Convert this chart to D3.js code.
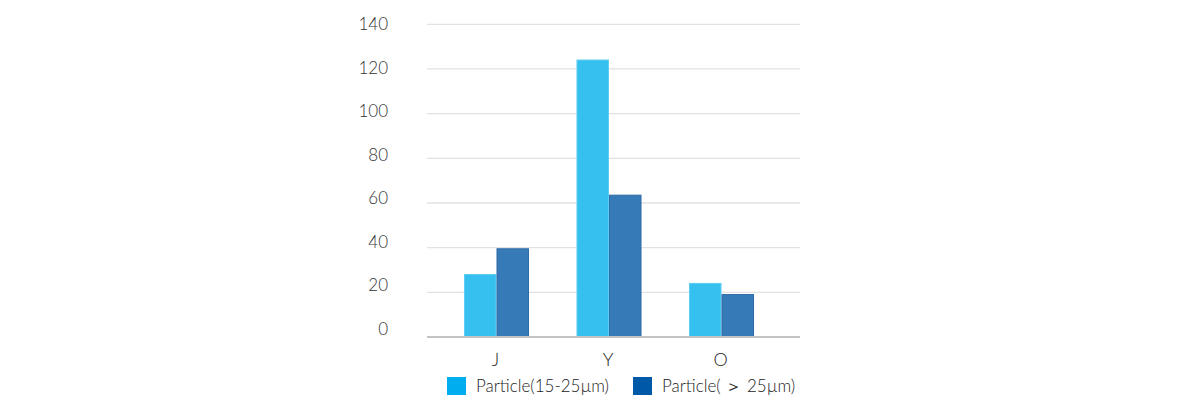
<!DOCTYPE html>
<html>
<head>
<meta charset="utf-8">
<script src="https://cdn.jsdelivr.net/npm/d3@7"></script>
<style>
  body { margin: 0; background: #fff; }
  svg text { font-family: Lato, "Open Sans", sans-serif; font-weight: 300; }
</style>
</head>
<body>
<svg id="chart" width="1200" height="400"></svg>
<script>
// chart values
const categories = ['J', 'Y', 'O'];
const seriesNames = ['Particle(15-25\u00b5m)', 'Particle( \uff1e 25\u00b5m)'];
const small = [28, 124, 24];     // 15-25um
const large = [39.5, 63.5, 19];  // > 25um
const yTicks = [0, 20, 40, 60, 80, 100, 120, 140];

const barColors = ['#35c0f0', '#367bb8'];
const barStroke = ['#5ccdf3', '#2f6ca6'];
const legendColors = ['#00aeef', '#0058a8'];

const svg = d3.select('#chart');

// y scale for gridlines / bars
const y = d3.scaleLinear().domain([0, 140]).range([337, 24.3]);
// the tick labels sit a bit higher than the lines in the original
const yLabel = d3.scaleLinear().domain([0, 140]).range([329, 24]);

const x0 = d3.scaleBand()
    .domain(categories)
    .range([440.25, 777.75])
    .paddingInner(0.422)
    .paddingOuter(0.211);

const x1 = d3.scaleBand()
    .domain([0, 1])
    .range([0, x0.bandwidth()]);

// gridlines
svg.append('g')
    .selectAll('line')
    .data(yTicks.filter(d => d > 0))
    .join('line')
    .attr('x1', 427).attr('x2', 800)
    .attr('y1', d => y(d)).attr('y2', d => y(d))
    .attr('stroke', '#e2e2e2')
    .attr('stroke-width', 1.3);

// y labels
svg.append('g')
    .selectAll('text')
    .data(yTicks)
    .join('text')
    .attr('x', 388)
    .attr('y', d => yLabel(d))
    .attr('dy', '0.35em')
    .attr('text-anchor', 'end')
    .attr('font-size', 17)
    .attr('fill', '#333')
    .text(d => d);

// bars
const rows = categories.map((c, i) => ({ cat: c, vals: [small[i], large[i]] }));
const groups = svg.append('g')
    .selectAll('g')
    .data(rows)
    .join('g')
    .attr('transform', d => `translate(${x0(d.cat)},0)`);

groups.selectAll('rect')
    .data(d => d.vals.map((v, k) => ({ k, v })))
    .join('rect')
    .attr('x', d => x1(d.k) + 0.5)
    .attr('width', x1.bandwidth() - 1)
    .attr('y', d => y(d.v))
    .attr('height', d => y(0) - y(d.v))
    .attr('fill', d => barColors[d.k])
    .attr('stroke', d => barStroke[d.k])
    .attr('stroke-width', 1);

// baseline
svg.append('line')
    .attr('x1', 427).attr('x2', 800)
    .attr('y1', y(0)).attr('y2', y(0))
    .attr('stroke', '#c4c4c4')
    .attr('stroke-width', 2);

// category labels
svg.append('g')
    .selectAll('text')
    .data(categories)
    .join('text')
    .attr('x', d => x0(d) + x0.bandwidth() / 2 - 1)
    .attr('y', 360)
    .attr('dy', '0.35em')
    .attr('text-anchor', 'middle')
    .attr('font-size', 18)
    .attr('fill', '#222')
    .text(d => d);

// legend
const legendX = [447, 633];
const legend = svg.append('g')
    .selectAll('g')
    .data(seriesNames)
    .join('g')
    .attr('transform', (d, i) => `translate(${legendX[i]},377)`);

legend.append('rect')
    .attr('width', 19).attr('height', 18)
    .attr('fill', (d, i) => legendColors[i]);

legend.append('text')
    .attr('x', 29)
    .attr('y', 9.5)
    .attr('dy', '0.35em')
    .attr('font-size', 17)
    .attr('fill', '#222')
    .text(d => d);
</script>
</body>
</html>
